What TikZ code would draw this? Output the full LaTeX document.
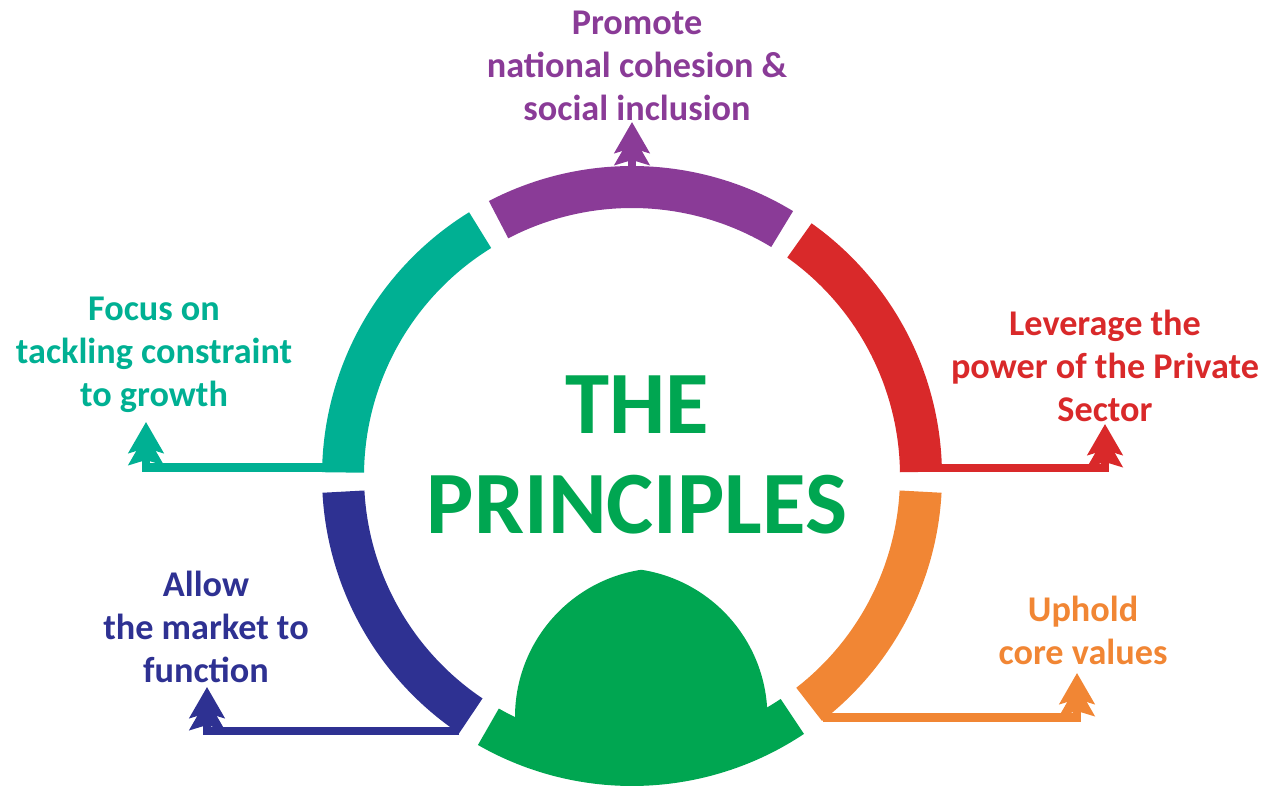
\documentclass[tikz,border=0pt]{standalone}
\usepackage{fontspec}
\setmainfont{Carlito}
\usetikzlibrary{arrows.meta}

\definecolor{ringteal}{RGB}{0,176,147}
\definecolor{ringpurple}{RGB}{138,59,151}
\definecolor{ringred}{RGB}{217,41,42}
\definecolor{ringorange}{RGB}{241,134,52}
\definecolor{ringgreen}{RGB}{0,166,81}
\definecolor{ringblue}{RGB}{46,49,146}

\newcommand{\ringpart}[3]{\fill[#1] (#2:310) arc[start angle=#2, end angle=#3, radius=310] -- (#3:268) arc[start angle=#3, end angle=#2, radius=268] -- cycle;}

\begin{document}
\begin{tikzpicture}[x=0.01cm, y=0.01cm]
\tikzstyle{every node}+=[inner sep=0pt, align=center, font=\bfseries\fontsize{10.3}{12.2}\selectfont]
\tikzstyle{pointer}=[line width=2.3pt, -{Stealth[length=8.8pt,width=9.9pt,inset=1.4pt,sep=-5.4pt]Stealth[length=8.8pt,width=9.9pt,inset=1.4pt,sep=0pt]}]
\useasboundingbox (0,0) rectangle (1264,-786);
\coordinate (C) at (632,-476);
\begin{scope}[shift={(C)}]
\ringpart{ringteal}{121.7}{179.3}
\ringpart{ringpurple}{58.7}{117.5}
\ringpart{ringred}{0.8}{54.6}
\ringpart{ringorange}{-52.2}{-3.1}
\ringpart{ringblue}{-176.9}{-123.9}
\ringpart{ringgreen}{-119.8}{-56.3}
\fill[ringgreen] (-117,-275) -- (-117,-241) arc[start angle=180, end angle=98.8, radius=149]
  arc[start angle=81.2, end angle=0, radius=149] -- (135.4,-275) -- cycle;
\end{scope}
\node (title) at (637,-455) [text=ringgreen, font=\bfseries\fontsize{25.3}{28.4}\selectfont] {THE\\PRINCIPLES};
\node (promote) at (637,-66) [text=ringpurple] {Promote\\national cohesion \&\\social inclusion};
\node (focus) at (154,-355) [text=ringteal] {Focus on\\tackling constraint\\to growth};
\node (leverage) at (1105,-366) [text=ringred] {Leverage the\\power of the Private\\Sector};
\node (uphold) at (1083,-630) [text=ringorange] {Uphold\\core values};
\node (allow) at (206,-627) [text=ringblue] {Allow\\the market to\\function};
\coordinate (purplefoot) at (632,-172);
\coordinate (purpletip) at (632,-122);
\coordinate (tealfoot) at (340,-467.5);
\coordinate (tealtip) at (146,-422);
\coordinate (redfoot) at (925,-468);
\coordinate (redtip) at (1105,-424);
\coordinate (orangefoot) at (823,-717.5);
\coordinate (orangetip) at (1077,-673);
\coordinate (bluefoot) at (459,-731);
\coordinate (bluetip) at (207,-687);
\draw[pointer, ringpurple] (purplefoot) -- (purpletip);
\draw[pointer, ringteal] (tealfoot) -| (tealtip);
\draw[pointer, ringred] (redfoot) -| (redtip);
\draw[pointer, ringorange] (orangefoot) -| (orangetip);
\draw[pointer, ringblue] (bluefoot) -| (bluetip);
\end{tikzpicture}
\end{document}
